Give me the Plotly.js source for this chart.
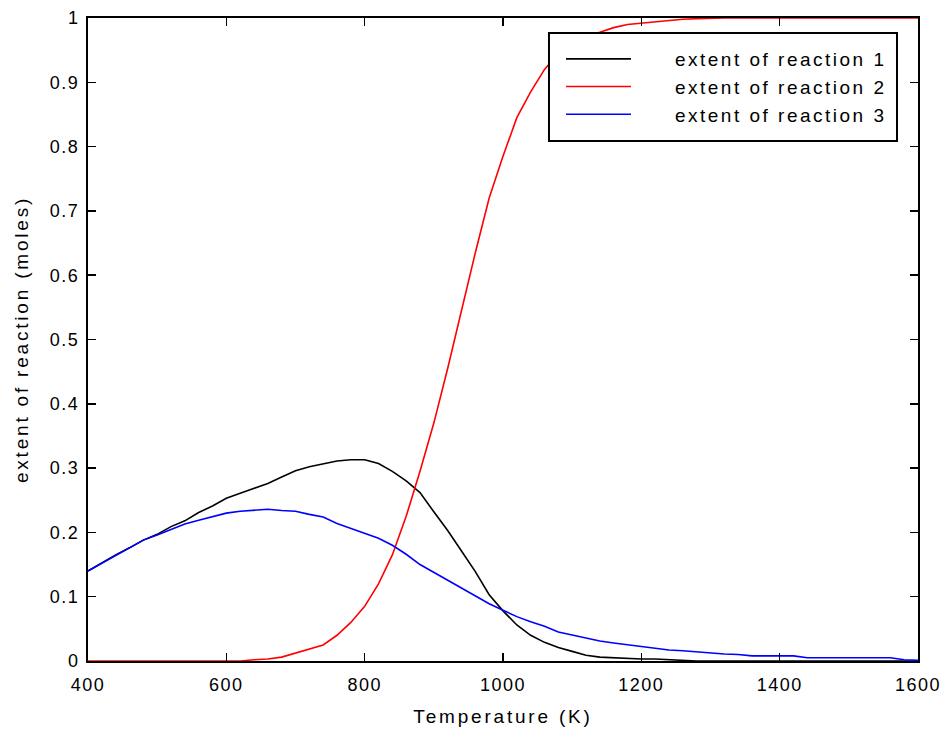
<!DOCTYPE html>
<html>
<head>
<meta charset="utf-8">
<script src="https://cdn.plot.ly/plotly-3.0.1.min.js"></script>
<style>
  html, body { margin: 0; padding: 0; background: #fff; }
  #chart { width: 947px; height: 731px; }
  .legendtext { letter-spacing: 2.5px; }
  .xtick text, .ytick text { letter-spacing: 1.5px; }
  .xtitle, .ytitle { letter-spacing: 2.8px; }
</style>
</head>
<body>
<div id="chart"></div>
<script>
const temperature = [400,420,440,460,480,500,520,540,560,580,600,620,640,660,680,700,720,740,760,780,800,820,840,860,880,900,920,940,960,980,1000,1020,1040,1060,1080,1100,1120,1140,1160,1180,1200,1220,1240,1260,1280,1300,1320,1340,1360,1380,1400,1420,1440,1460,1480,1500,1520,1540,1560,1580,1600];

const reaction1 = [0.140,0.153,0.165,0.176,0.188,0.197,0.209,0.218,0.231,0.241,0.253,0.261,0.268,0.276,0.286,0.296,0.302,0.307,0.311,0.313,0.313,0.307,0.295,0.280,0.262,0.232,0.203,0.171,0.139,0.103,0.078,0.056,0.040,0.029,0.021,0.015,0.009,0.006,0.005,0.003,0.003,0.003,0.002,0,0,0,0,0,0,0,0,0,0,0,0,0,0,0,0,0,0];

const reaction2 = [0,0,0,0,0,0,0,0,0,0,0,0,0.002,0.003,0.006,0.012,0.018,0.025,0.040,0.060,0.085,0.120,0.165,0.225,0.295,0.370,0.455,0.545,0.635,0.720,0.785,0.845,0.885,0.920,0.945,0.960,0.972,0.978,0.985,0.990,0.992,0.995,0.996,0.998,0.999,1,1,1,1,1,1,1,1,1,1,1,1,1,1,1,1];

const reaction3 = [0.140,0.152,0.163,0.175,0.188,0.196,0.205,0.213,0.219,0.225,0.230,0.233,0.234,0.236,0.234,0.233,0.228,0.224,0.214,0.206,0.198,0.191,0.180,0.166,0.150,0.138,0.126,0.114,0.101,0.089,0.079,0.069,0.061,0.054,0.045,0.040,0.036,0.031,0.028,0.025,0.022,0.019,0.017,0.016,0.014,0.013,0.011,0.010,0.008,0.008,0.008,0.008,0.005,0.005,0.005,0.005,0.005,0.005,0.005,0.002,0.001];

const seriesNames = ["extent of reaction 1","extent of reaction 2","extent of reaction 3"];
const seriesColors = ["#000000","#ff0000","#0000ff"];
const pad = "\u00a0\u00a0\u00a0\u00a0\u00a0";

const ys = [reaction1, reaction2, reaction3];
const traces = ys.map((y, i) => ({
  x: temperature, y: y, type: "scatter", mode: "lines",
  name: pad + seriesNames[i],
  line: {color: seriesColors[i], width: 1.6}
}));

const fam = "'Liberation Sans', Arial, Helvetica, sans-serif";
const tickFont = {family: fam, size: 18, color: "#000"};
const titleFont = {family: fam, size: 19, color: "#000"};

const axisCommon = {
  showgrid: false, zeroline: false, showline: true, linecolor: "#000", linewidth: 2,
  mirror: "ticks", ticks: "inside", ticklen: 8, tickwidth: 1.5, tickcolor: "#000",
  tickfont: tickFont
};

const layout = {
  width: 947, height: 731,
  margin: {l: 88, r: 29, t: 18, b: 70},
  paper_bgcolor: "#fff", plot_bgcolor: "#fff",
  font: tickFont,
  showlegend: true,
  legend: {
    x: 0.5699, y: 0.9658, xanchor: "left", yanchor: "top",
    borderwidth: 0, bgcolor: "rgba(0,0,0,0)", itemwidth: 65,
    font: {family: fam, size: 19, color: "#000"}
  },
  shapes: [{
    type: "rect", xref: "paper", yref: "paper", layer: "above",
    x0: 0.5554, x1: 0.9747, y0: 0.8087, y1: 0.9767,
    line: {color: "#000", width: 2}, fillcolor: "#fff"
  }],
  xaxis: Object.assign({}, axisCommon, {
    range: [400, 1600], dtick: 200, tick0: 400, ticklabelstandoff: 6,
    title: {text: "Temperature (K)", font: titleFont, standoff: 16}
  }),
  yaxis: Object.assign({}, axisCommon, {
    range: [0, 1], dtick: 0.1, tick0: 0, ticklabelstandoff: 3,
    title: {text: "extent of reaction (moles)", font: titleFont, standoff: 16}
  })
};

Plotly.newPlot("chart", traces, layout, {displayModeBar: false, staticPlot: true});
</script>
</body>
</html>
